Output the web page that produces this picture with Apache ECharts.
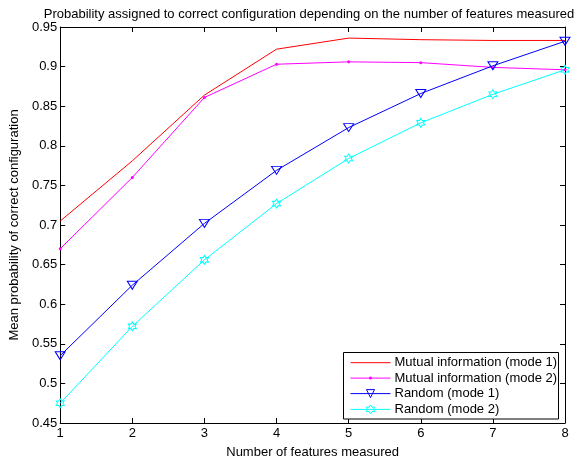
<!DOCTYPE html>
<html>
<head>
<meta charset="utf-8">
<script src="https://cdn.jsdelivr.net/npm/echarts@6/dist/echarts.min.js"></script>
<style>html,body{margin:0;padding:0;background:#fff}#c{width:576px;height:464px}</style>
</head>
<body>
<div id="c"></div>
<script>
const titleText = 'Probability assigned to correct configuration depending on the number of features measured';
const xName = 'Number of features measured';
const yName = 'Mean probability of correct configuration';
const features = [1, 2, 3, 4, 5, 6, 7, 8];
const seriesNames = ['Mutual information (mode 1)', 'Mutual information (mode 2)', 'Random (mode 1)', 'Random (mode 2)'];
const seriesColors = ['#ff0000', '#ff00ff', '#0000ff', '#00ffff'];
const mutualMode1 = [0.705, 0.781, 0.864, 0.922, 0.936, 0.934, 0.933, 0.933];
const mutualMode2 = [0.670, 0.760, 0.861, 0.903, 0.906, 0.905, 0.899, 0.896];
const randomMode1 = [0.535, 0.624, 0.702, 0.769, 0.823, 0.866, 0.901, 0.932];
const randomMode2 = [0.475, 0.572, 0.656, 0.727, 0.784, 0.829, 0.865, 0.896];

const FONT = 'Liberation Sans, Arial, Helvetica, sans-serif';
const hexagram = 'path://M0,-10 L-2.89,-5 L-8.66,-5 L-5.77,0 L-8.66,5 L-2.89,5 L0,10 L2.89,5 L8.66,5 L5.77,0 L8.66,-5 L2.89,-5 Z';

function pairs(vals) { return features.map((x, i) => [x, vals[i]]); }

// legend layout (one legend per row so each marker keeps its own size)
const legendRowCenters = [362.7, 378.1, 393.6, 409.4];
const legendIconHeights = [10, 3.75, 10, 11];
const legendItemStyles = [
  {color: 'rgba(0,0,0,0)', borderWidth: 0, opacity: 0},
  {color: '#ff00ff', borderWidth: 0},
  {color: 'rgba(255,255,255,0)', borderColor: '#0000ff', borderWidth: 1},
  {color: 'rgba(255,255,255,0)', borderColor: '#00ffff', borderWidth: 1}
];
const TEXT_LH = 15;
const legends = seriesNames.map((name, i) => ({
  orient: 'vertical', left: 350, top: legendRowCenters[i] - TEXT_LH / 2,
  itemWidth: 40, itemHeight: legendIconHeights[i], itemGap: 0, padding: 0,
  z: 10,
  textStyle: {fontFamily: FONT, fontSize: 13, color: '#000', lineHeight: TEXT_LH, padding: [0, 0, 0, -1]},
  data: [{name: name, itemStyle: legendItemStyles[i], lineStyle: {color: seriesColors[i], width: 1}}]
}));

const chart = echarts.init(document.getElementById('c'), null, {renderer: 'canvas'});
const axisCommon = {
  axisLine: {show: true, onZero: false, lineStyle: {color: '#000', width: 1}},
  axisTick: {show: true, inside: true, length: 5, lineStyle: {color: '#000'}},
  splitLine: {show: false}
};
chart.setOption({
  animation: false,
  backgroundColor: '#fff',
  textStyle: {fontFamily: FONT},
  title: {
    text: titleText, left: 304, top: 3, textAlign: 'center',
    textStyle: {fontFamily: FONT, fontSize: 13, fontWeight: 'normal', color: '#000'}
  },
  grid: {left: 58, right: 11, top: 27, bottom: 37, containLabel: false},
  graphic: [{
    type: 'rect', z: 5,
    shape: {x: 343.5, y: 352.5, width: 215, height: 66.5},
    style: {fill: '#fff', stroke: '#000', lineWidth: 1}
  }],
  legend: legends,
  xAxis: [
    Object.assign({
      type: 'value', min: 1, max: 8, interval: 1, position: 'bottom',
      name: xName, nameLocation: 'middle', nameGap: 23,
      nameTextStyle: {fontFamily: FONT, fontSize: 13, color: '#000'},
      axisLabel: {color: '#000', fontSize: 13, fontFamily: FONT, margin: 4}
    }, axisCommon),
    Object.assign({
      type: 'value', min: 1, max: 8, interval: 1, position: 'top',
      axisLabel: {show: false}
    }, axisCommon)
  ],
  yAxis: [
    Object.assign({
      type: 'value', min: 0.45, max: 0.95, interval: 0.05, position: 'left',
      name: yName, nameLocation: 'middle', nameGap: 33,
      nameTextStyle: {fontFamily: FONT, fontSize: 13, color: '#000'},
      axisLabel: {color: '#000', fontSize: 13, fontFamily: FONT, margin: 3}
    }, axisCommon),
    Object.assign({
      type: 'value', min: 0.45, max: 0.95, interval: 0.05, position: 'right',
      axisLabel: {show: false}
    }, axisCommon)
  ],
  series: [
    {
      name: seriesNames[0], type: 'line', data: pairs(mutualMode1),
      symbol: 'none', color: seriesColors[0],
      lineStyle: {color: seriesColors[0], width: 1}
    },
    {
      name: seriesNames[1], type: 'line', data: pairs(mutualMode2),
      symbol: 'circle', symbolSize: 3, showSymbol: true, color: seriesColors[1],
      itemStyle: {color: seriesColors[1]},
      lineStyle: {color: seriesColors[1], width: 1}
    },
    {
      name: seriesNames[2], type: 'line', data: pairs(randomMode1),
      symbol: 'triangle', symbolRotate: 180, symbolSize: [10, 8], showSymbol: true, color: seriesColors[2],
      itemStyle: {color: 'rgba(255,255,255,0)', borderColor: seriesColors[2], borderWidth: 1},
      lineStyle: {color: seriesColors[2], width: 1}
    },
    {
      name: seriesNames[3], type: 'line', data: pairs(randomMode2),
      symbol: hexagram, symbolSize: [8, 9], showSymbol: true, color: seriesColors[3],
      itemStyle: {color: 'rgba(255,255,255,0)', borderColor: seriesColors[3], borderWidth: 1},
      lineStyle: {color: seriesColors[3], width: 1}
    }
  ]
});
</script>
</body>
</html>
